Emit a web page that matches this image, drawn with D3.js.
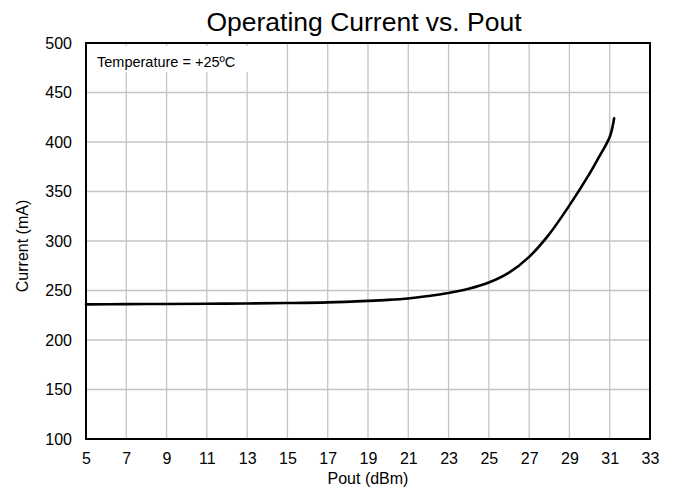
<!DOCTYPE html>
<html>
<head>
<meta charset="utf-8">
<script src="https://cdn.jsdelivr.net/npm/d3@7"></script>
<style>
  body { margin: 0; background: #fff; }
  svg { display: block; font-family: "Liberation Sans", Arial, sans-serif; }
</style>
</head>
<body>
<div id="chart"></div>
<script>
// data
var poutValues = [5, 7, 9, 11, 13, 15, 17, 19, 20, 21, 22, 23, 24, 25, 26, 27, 28, 29, 30, 30.5, 31, 31.22];
var currentValues = [236, 236.2, 236.4, 236.6, 236.9, 237.3, 238, 239.5, 240.5, 242, 244.5, 247.5, 251.7, 258, 268, 284, 307, 336, 368, 386, 405, 424];
var xTicks = [5, 7, 9, 11, 13, 15, 17, 19, 21, 23, 25, 27, 29, 31, 33];
var yTicks = [100, 150, 200, 250, 300, 350, 400, 450, 500];

var W = 674, H = 491;
var margin = {top: 43, right: 24, bottom: 52, left: 86};
var width = W - margin.left - margin.right;
var height = H - margin.top - margin.bottom;

var svg = d3.select("#chart").append("svg")
    .attr("width", W)
    .attr("height", H);

var g = svg.append("g")
    .attr("transform", "translate(" + margin.left + "," + margin.top + ")");

var x = d3.scaleLinear().domain([5, 33]).range([0, width]);
var y = d3.scaleLinear().domain([100, 500]).range([height, 0]);

// grid
g.append("g")
    .selectAll("line")
    .data(xTicks)
    .enter().append("line")
    .attr("x1", function(d) { return x(d); })
    .attr("x2", function(d) { return x(d); })
    .attr("y1", 0)
    .attr("y2", height)
    .attr("stroke", "#c4c4c4")
    .attr("stroke-width", 1.3);

g.append("g")
    .selectAll("line")
    .data(yTicks)
    .enter().append("line")
    .attr("x1", 0)
    .attr("x2", width)
    .attr("y1", function(d) { return y(d); })
    .attr("y2", function(d) { return y(d); })
    .attr("stroke", "#c4c4c4")
    .attr("stroke-width", 1.3);

// axes (labels only, no tick marks)
var xAxis = g.append("g")
    .attr("transform", "translate(0," + height + ")")
    .call(d3.axisBottom(x).tickValues(xTicks).tickSize(0).tickPadding(14));
xAxis.select(".domain").remove();
xAxis.selectAll("text")
    .attr("font-size", 16)
    .attr("font-family", "Liberation Sans, Arial, sans-serif")
    .attr("fill", "#000");

var yAxis = g.append("g")
    .call(d3.axisLeft(y).tickValues(yTicks).tickSize(0).tickPadding(14));
yAxis.select(".domain").remove();
yAxis.selectAll("text")
    .attr("font-size", 16)
    .attr("font-family", "Liberation Sans, Arial, sans-serif")
    .attr("fill", "#000");

// annotation box
g.append("rect")
    .attr("x", 2)
    .attr("y", 3)
    .attr("width", 168)
    .attr("height", 26)
    .attr("fill", "#fff");

g.append("text")
    .attr("x", 11)
    .attr("y", 23.5)
    .attr("font-size", 14.5)
    .text("Temperature = +25ºC");

// curve
var line = d3.line()
    .x(function(d, i) { return x(poutValues[i]); })
    .y(function(d) { return y(d); })
    .curve(d3.curveCatmullRom.alpha(0.5));

g.append("path")
    .datum(currentValues)
    .attr("fill", "none")
    .attr("stroke", "#000")
    .attr("stroke-width", 2.6)
    .attr("stroke-linecap", "round")
    .attr("d", line);

// plot frame
g.append("rect")
    .attr("x", 0)
    .attr("y", 0)
    .attr("width", width)
    .attr("height", height)
    .attr("fill", "none")
    .attr("stroke", "#000")
    .attr("stroke-width", 2);

// title
svg.append("text")
    .attr("x", margin.left + width / 2 - 4)
    .attr("y", 31)
    .attr("text-anchor", "middle")
    .attr("font-size", 26.5)
    .text("Operating Current vs. Pout");

// axis titles
svg.append("text")
    .attr("x", margin.left + width / 2)
    .attr("y", 484)
    .attr("text-anchor", "middle")
    .attr("font-size", 16)
    .text("Pout (dBm)");

svg.append("text")
    .attr("transform", "translate(28," + (margin.top + height / 2 + 5) + ") rotate(-90)")
    .attr("text-anchor", "middle")
    .attr("font-size", 16)
    .text("Current (mA)");
</script>
</body>
</html>
